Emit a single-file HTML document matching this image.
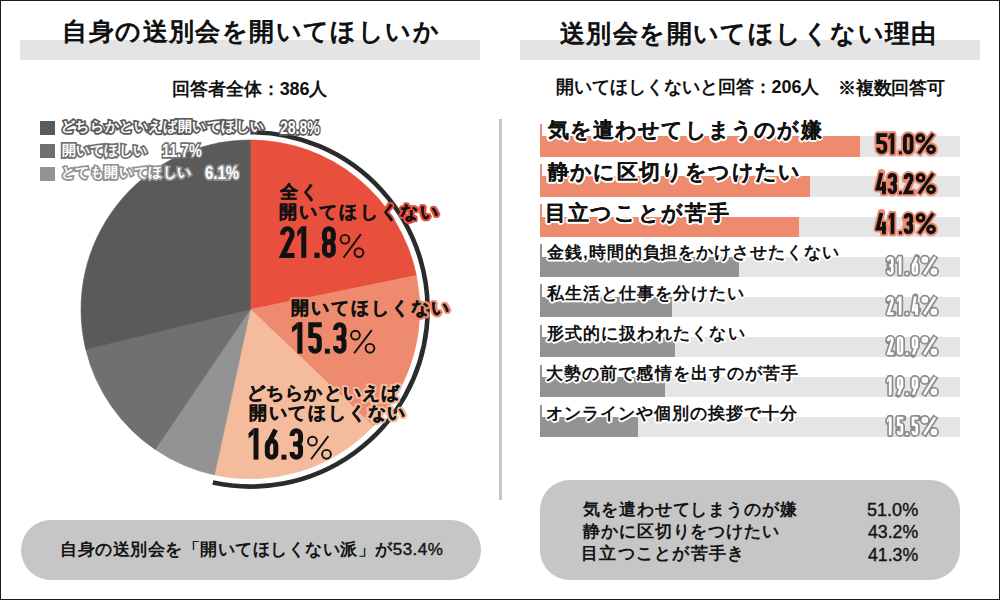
<!DOCTYPE html>
<html><head><meta charset="utf-8"><style>
*{margin:0;padding:0;box-sizing:border-box}
html,body{width:1000px;height:600px;overflow:hidden;background:#fff}
body{position:relative;font-family:"Liberation Sans",sans-serif;color:#111}
#frame{position:absolute;left:0;top:0;width:1000px;height:600px;border:1px solid #1c1c1c;z-index:50}
.t{position:absolute;white-space:nowrap;font-weight:bold;transform-origin:0 0}
.tbar{position:absolute;height:20px;background:#e4e4e4}
.blk{color:#111;-webkit-text-stroke:0.2px rgba(17,17,17,0.45)}
.blk2{color:#141414;-webkit-text-stroke:0px #141414}
.plab{color:#111;-webkit-text-stroke:0.35px #111}
.p1{text-shadow:2.20px 0.00px 0 #e84f3c,2.03px 0.84px 0 #e84f3c,1.56px 1.56px 0 #e84f3c,0.84px 2.03px 0 #e84f3c,0.00px 2.20px 0 #e84f3c,-0.84px 2.03px 0 #e84f3c,-1.56px 1.56px 0 #e84f3c,-2.03px 0.84px 0 #e84f3c,-2.20px 0.00px 0 #e84f3c,-2.03px -0.84px 0 #e84f3c,-1.56px -1.56px 0 #e84f3c,-0.84px -2.03px 0 #e84f3c,-0.00px -2.20px 0 #e84f3c,0.84px -2.03px 0 #e84f3c,1.56px -1.56px 0 #e84f3c,2.03px -0.84px 0 #e84f3c,1.32px 0.00px 0 #e84f3c,0.93px 0.93px 0 #e84f3c,0.00px 1.32px 0 #e84f3c,-0.93px 0.93px 0 #e84f3c,-1.32px 0.00px 0 #e84f3c,-0.93px -0.93px 0 #e84f3c,-0.00px -1.32px 0 #e84f3c,0.93px -0.93px 0 #e84f3c}
.p2{text-shadow:2.20px 0.00px 0 #ee8b6e,2.03px 0.84px 0 #ee8b6e,1.56px 1.56px 0 #ee8b6e,0.84px 2.03px 0 #ee8b6e,0.00px 2.20px 0 #ee8b6e,-0.84px 2.03px 0 #ee8b6e,-1.56px 1.56px 0 #ee8b6e,-2.03px 0.84px 0 #ee8b6e,-2.20px 0.00px 0 #ee8b6e,-2.03px -0.84px 0 #ee8b6e,-1.56px -1.56px 0 #ee8b6e,-0.84px -2.03px 0 #ee8b6e,-0.00px -2.20px 0 #ee8b6e,0.84px -2.03px 0 #ee8b6e,1.56px -1.56px 0 #ee8b6e,2.03px -0.84px 0 #ee8b6e,1.32px 0.00px 0 #ee8b6e,0.93px 0.93px 0 #ee8b6e,0.00px 1.32px 0 #ee8b6e,-0.93px 0.93px 0 #ee8b6e,-1.32px 0.00px 0 #ee8b6e,-0.93px -0.93px 0 #ee8b6e,-0.00px -1.32px 0 #ee8b6e,0.93px -0.93px 0 #ee8b6e}
.p3{text-shadow:2.20px 0.00px 0 #f4bc9c,2.03px 0.84px 0 #f4bc9c,1.56px 1.56px 0 #f4bc9c,0.84px 2.03px 0 #f4bc9c,0.00px 2.20px 0 #f4bc9c,-0.84px 2.03px 0 #f4bc9c,-1.56px 1.56px 0 #f4bc9c,-2.03px 0.84px 0 #f4bc9c,-2.20px 0.00px 0 #f4bc9c,-2.03px -0.84px 0 #f4bc9c,-1.56px -1.56px 0 #f4bc9c,-0.84px -2.03px 0 #f4bc9c,-0.00px -2.20px 0 #f4bc9c,0.84px -2.03px 0 #f4bc9c,1.56px -1.56px 0 #f4bc9c,2.03px -0.84px 0 #f4bc9c,1.32px 0.00px 0 #f4bc9c,0.93px 0.93px 0 #f4bc9c,0.00px 1.32px 0 #f4bc9c,-0.93px 0.93px 0 #f4bc9c,-1.32px 0.00px 0 #f4bc9c,-0.93px -0.93px 0 #f4bc9c,-0.00px -1.32px 0 #f4bc9c,0.93px -0.93px 0 #f4bc9c}
.big{color:#111}
.pctl{color:#111;font-weight:normal!important}
.nw{font-weight:normal;-webkit-text-stroke:0.4px #141414}
.bpn{color:#141414;font-weight:normal!important;-webkit-text-stroke:0.4px #141414}
.leg,.legn{color:#fff;-webkit-text-stroke:3.5px #555;paint-order:stroke fill}
.rt1{color:#111;-webkit-text-stroke:0.1px #111;text-shadow:1.80px 0.00px 0 #fff,1.66px 0.69px 0 #fff,1.27px 1.27px 0 #fff,0.69px 1.66px 0 #fff,0.00px 1.80px 0 #fff,-0.69px 1.66px 0 #fff,-1.27px 1.27px 0 #fff,-1.66px 0.69px 0 #fff,-1.80px 0.00px 0 #fff,-1.66px -0.69px 0 #fff,-1.27px -1.27px 0 #fff,-0.69px -1.66px 0 #fff,-0.00px -1.80px 0 #fff,0.69px -1.66px 0 #fff,1.27px -1.27px 0 #fff,1.66px -0.69px 0 #fff,1.08px 0.00px 0 #fff,0.76px 0.76px 0 #fff,0.00px 1.08px 0 #fff,-0.76px 0.76px 0 #fff,-1.08px 0.00px 0 #fff,-0.76px -0.76px 0 #fff,-0.00px -1.08px 0 #fff,0.76px -0.76px 0 #fff}
.rt2{color:#111;-webkit-text-stroke:0px #111;text-shadow:1.60px 0.00px 0 #fff,1.48px 0.61px 0 #fff,1.13px 1.13px 0 #fff,0.61px 1.48px 0 #fff,0.00px 1.60px 0 #fff,-0.61px 1.48px 0 #fff,-1.13px 1.13px 0 #fff,-1.48px 0.61px 0 #fff,-1.60px 0.00px 0 #fff,-1.48px -0.61px 0 #fff,-1.13px -1.13px 0 #fff,-0.61px -1.48px 0 #fff,-0.00px -1.60px 0 #fff,0.61px -1.48px 0 #fff,1.13px -1.13px 0 #fff,1.48px -0.61px 0 #fff,0.96px 0.00px 0 #fff,0.68px 0.68px 0 #fff,0.00px 0.96px 0 #fff,-0.68px 0.68px 0 #fff,-0.96px 0.00px 0 #fff,-0.68px -0.68px 0 #fff,-0.00px -0.96px 0 #fff,0.68px -0.68px 0 #fff}
.sub{color:#111;-webkit-text-stroke:0px #111}
.pct1{color:#111;-webkit-text-stroke:4px #ee8b6e;paint-order:stroke fill}
.pct2{color:#fff;-webkit-text-stroke:3.5px #8f8f8f;paint-order:stroke fill}
.legsq{position:absolute;left:40px;width:14.5px;height:14.5px}
.sep{position:absolute;left:498.5px;top:119px;width:3px;height:381px;background:#c6c6c6}
.vl{position:absolute;left:540px;width:2px}
.bg{position:absolute;left:540px;width:420px;height:20.3px;background:#e5e5e5}
.bar{position:absolute;left:540px;height:20.3px}
.box{position:absolute;background:#c6c6c6}
body.measure .t{-webkit-text-stroke-width:0!important;color:#000!important;text-shadow:none!important}
</style></head><body>
<div id="frame"></div>
<div class="tbar" style="left:20px;top:40px;width:460px"></div>
<div class="tbar" style="left:520px;top:40px;width:460px"></div>
<div id="t_lt" class="t blk" style="left:62.30px;top:19.40px;font-size:25.00px;line-height:25.00px;letter-spacing:1.41px">自身の送別会を開いてほしいか</div>
<div id="t_rt" class="t blk" style="left:560.00px;top:20.60px;font-size:25.00px;line-height:25.00px;letter-spacing:1.41px">送別会を開いてほしくない理由</div>
<div id="t_ls" class="t sub" style="left:172.15px;top:79.71px;font-size:18.00px;line-height:18.00px;letter-spacing:-0.08px">回答者全体：386人</div>
<div id="t_rs1" class="t sub" style="left:556.07px;top:77.61px;font-size:18.00px;line-height:18.00px;letter-spacing:-0.05px">開いてほしくないと回答：206人</div>
<div id="t_rs2" class="t sub" style="left:838.20px;top:78.51px;font-size:18.00px;line-height:18.00px;letter-spacing:-0.25px">※複数回答可</div>
<svg style="position:absolute;left:0;top:0" width="1000" height="600"><path fill="#e84f3c" stroke="#e84f3c" stroke-width="0.6" d="M250.4 309.4L250.40 140.00A169.4 169.4 0 0 1 416.39 275.57Z"/><path fill="#ee8b6e" stroke="#ee8b6e" stroke-width="0.6" d="M250.4 309.4L416.39 275.57A169.4 169.4 0 0 1 373.16 426.14Z"/><path fill="#f4bc9c" stroke="#f4bc9c" stroke-width="0.6" d="M250.4 309.4L373.16 426.14A169.4 169.4 0 0 1 214.49 474.95Z"/><path fill="#939393" stroke="#939393" stroke-width="0.6" d="M250.4 309.4L214.49 474.95A169.4 169.4 0 0 1 155.18 449.51Z"/><path fill="#707070" stroke="#707070" stroke-width="0.6" d="M250.4 309.4L155.18 449.51A169.4 169.4 0 0 1 85.81 349.46Z"/><path fill="#5a5a5a" stroke="#5a5a5a" stroke-width="0.6" d="M250.4 309.4L85.81 349.46A169.4 169.4 0 0 1 250.40 140.00Z"/><path fill="none" stroke="#2b2b2b" stroke-width="4.6" d="M250.4 132.2A177.2 177.2 0 1 1 212.83 482.57"/></svg>
<div class="legsq" style="top:120.5px;background:#5a5a5a"></div>
<div class="legsq" style="top:143.8px;background:#707070"></div>
<div class="legsq" style="top:166.8px;background:#939393"></div>
<div id="t_l1a" class="t leg" style="left:60.82px;top:118.96px;font-size:14.00px;line-height:14.00px;letter-spacing:0.59px;-webkit-text-stroke-color:#5a5a5a">どちらかといえば開いてほしい</div><div id="t_l1b" class="t legn" style="left:279.88px;top:117.61px;font-size:19.00px;line-height:19.00px;letter-spacing:0.00px;transform:scaleX(0.737);-webkit-text-stroke-color:#5a5a5a">28.8%</div>
<div id="t_l2a" class="t leg" style="left:61.72px;top:142.70px;font-size:14.00px;line-height:14.00px;letter-spacing:0.25px;-webkit-text-stroke-color:#707070">開いてほしい</div><div id="t_l2b" class="t legn" style="left:161.96px;top:141.80px;font-size:18.00px;line-height:18.00px;letter-spacing:0.00px;transform:scaleX(0.794);-webkit-text-stroke-color:#707070">11.7%</div>
<div id="t_l3a" class="t leg" style="left:60.82px;top:164.90px;font-size:14.00px;line-height:14.00px;letter-spacing:0.55px;-webkit-text-stroke-color:#939393">とても開いてほしい</div><div id="t_l3b" class="t legn" style="left:205.10px;top:164.00px;font-size:18.00px;line-height:18.00px;letter-spacing:0.00px;transform:scaleX(0.827);-webkit-text-stroke-color:#939393">6.1%</div>
<div id="t_p1a" class="t plab p1" style="left:279.75px;top:182.99px;font-size:18.00px;line-height:18.00px;letter-spacing:2.28px">全く</div><div id="t_p1b" class="t plab p1" style="left:278.85px;top:202.83px;font-size:18.00px;line-height:18.00px;letter-spacing:2.21px">開いてほしくない</div>
<div id="t_p2a" class="t plab p2" style="left:290.98px;top:298.86px;font-size:18.00px;line-height:18.00px;letter-spacing:2.06px">開いてほしくない</div>
<div id="t_p3a" class="t plab p3" style="left:247.05px;top:384.30px;font-size:18.00px;line-height:18.00px;letter-spacing:1.14px">どちらかといえば</div><div id="t_p3b" class="t plab p3" style="left:248.85px;top:403.95px;font-size:18.00px;line-height:18.00px;letter-spacing:1.78px">開いてほしくない</div>
<svg style="position:absolute;left:0;top:0" width="1000" height="600"><g role="img" aria-label="21.8%"><path d="M282.70 234.65L282.70 233.45A4.65 4.65 0 0 1 292.00 233.45L292.00 235.98L282.70 255.40L294.50 255.40" fill="none" stroke="#111" stroke-width="5.00" stroke-linecap="butt" stroke-linejoin="miter"/><polygon points="297.30,231.36 301.30,226.30 301.30,232.62 297.30,236.73" fill="#111" stroke="#111" stroke-width="0.00" stroke-linejoin="round"/><rect x="301.30" y="226.30" width="5.00" height="31.60" rx="0.00" fill="#111"/><rect x="314.40" y="252.70" width="5.20" height="5.20" rx="0.00" fill="#111"/><path d="M324.50 233.20A4.40 4.40 0 0 1 333.30 233.20L333.30 237.70A4.40 4.40 0 0 1 324.50 237.70Z" fill="none" stroke="#111" stroke-width="5.00" stroke-linecap="butt" stroke-linejoin="miter"/><path d="M324.50 246.50A4.40 4.40 0 0 1 333.30 246.50L333.30 251.00A4.40 4.40 0 0 1 324.50 251.00Z" fill="none" stroke="#111" stroke-width="5.00" stroke-linecap="butt" stroke-linejoin="miter"/><circle cx="344.95" cy="239.25" r="4.40" fill="none" stroke="#111" stroke-width="1.90"/><circle cx="358.95" cy="252.65" r="4.40" fill="none" stroke="#111" stroke-width="1.90"/><path d="M360.84 234.28L343.55 257.62" stroke="#111" stroke-width="1.90" stroke-linecap="butt"/></g><g role="img" aria-label="15.3%"><polygon points="292.00,327.19 297.40,322.15 297.40,328.45 292.00,332.54" fill="#111" stroke="#111" stroke-width="0.00" stroke-linejoin="round"/><rect x="297.40" y="322.15" width="5.00" height="31.50" rx="0.00" fill="#111"/><path d="M321.75 324.65L310.75 324.65L310.75 337.88" fill="none" stroke="#111" stroke-width="5.00" stroke-linecap="butt" stroke-linejoin="miter"/><path d="M310.75 335.38L315.00 335.38A4.25 4.25 0 0 1 319.25 339.63L319.25 346.90A4.25 4.25 0 0 1 310.75 346.90L310.75 345.90" fill="none" stroke="#111" stroke-width="5.00" stroke-linecap="butt" stroke-linejoin="miter"/><rect x="324.90" y="348.70" width="4.95" height="4.95" rx="0.00" fill="#111"/><path d="M335.50 329.90L335.50 328.90A4.25 4.25 0 0 1 344.00 328.90L344.00 333.65A4.25 4.25 0 0 1 339.75 337.90L336.50 337.90" fill="none" stroke="#111" stroke-width="5.00" stroke-linecap="butt" stroke-linejoin="miter"/><path d="M339.75 337.90A4.25 4.25 0 0 1 344.00 342.15L344.00 346.90A4.25 4.25 0 0 1 335.50 346.90L335.50 345.90" fill="none" stroke="#111" stroke-width="5.00" stroke-linecap="butt" stroke-linejoin="miter"/><circle cx="355.45" cy="335.15" r="4.40" fill="none" stroke="#111" stroke-width="1.90"/><circle cx="369.95" cy="348.30" r="4.40" fill="none" stroke="#111" stroke-width="1.90"/><path d="M371.77 330.18L354.13 353.27" stroke="#111" stroke-width="1.90" stroke-linecap="butt"/></g><g role="img" aria-label="16.3%"><polygon points="248.60,433.19 253.50,428.15 253.50,434.45 248.60,438.54" fill="#111" stroke="#111" stroke-width="0.00" stroke-linejoin="round"/><rect x="253.50" y="428.15" width="5.00" height="31.50" rx="0.00" fill="#111"/><path d="M267.30 445.00A4.25 4.25 0 0 1 275.80 445.00L275.80 452.90A4.25 4.25 0 0 1 267.30 452.90Z" fill="none" stroke="#111" stroke-width="5.00" stroke-linecap="butt" stroke-linejoin="miter"/><path d="M275.60 429.65L267.30 446.00" fill="none" stroke="#111" stroke-width="5.00" stroke-linecap="butt" stroke-linejoin="miter"/><rect x="281.45" y="454.70" width="4.95" height="4.95" rx="0.00" fill="#111"/><path d="M292.05 435.90L292.05 434.90A4.25 4.25 0 0 1 300.55 434.90L300.55 439.65A4.25 4.25 0 0 1 296.30 443.90L293.05 443.90" fill="none" stroke="#111" stroke-width="5.00" stroke-linecap="butt" stroke-linejoin="miter"/><path d="M296.30 443.90A4.25 4.25 0 0 1 300.55 448.15L300.55 452.90A4.25 4.25 0 0 1 292.05 452.90L292.05 451.90" fill="none" stroke="#111" stroke-width="5.00" stroke-linecap="butt" stroke-linejoin="miter"/><circle cx="312.45" cy="441.15" r="4.40" fill="none" stroke="#111" stroke-width="1.90"/><circle cx="326.50" cy="454.30" r="4.40" fill="none" stroke="#111" stroke-width="1.90"/><path d="M328.39 436.18L311.06 459.27" stroke="#111" stroke-width="1.90" stroke-linecap="butt"/></g></svg>
<div class="box" style="left:21px;top:520px;width:460px;height:60px;border-radius:30px"></div>
<div id="t_bl" class="t blk2" style="left:60.20px;top:540.50px;font-size:17.00px;line-height:17.00px;letter-spacing:0.50px">自身の送別会を「開いてほしくない派」が<span class="nw">53.4%</span></div>
<div class="sep"></div>
<div class="bg" style="top:136.30px"></div>
<div class="bar" style="top:136.30px;width:320px;background:#ee8b6e"></div>
<div class="vl" style="top:124.00px;height:32.6px;background:#ee8b6e"></div>
<div class="bg" style="top:176.40px"></div>
<div class="bar" style="top:176.40px;width:270px;background:#ee8b6e"></div>
<div class="vl" style="top:164.10px;height:32.6px;background:#ee8b6e"></div>
<div class="bg" style="top:216.50px"></div>
<div class="bar" style="top:216.50px;width:259px;background:#ee8b6e"></div>
<div class="vl" style="top:204.20px;height:32.6px;background:#ee8b6e"></div>
<div class="bg" style="top:256.60px"></div>
<div class="bar" style="top:256.60px;width:199px;background:#939393"></div>
<div class="vl" style="top:244.30px;height:32.6px;background:#939393"></div>
<div class="bg" style="top:296.70px"></div>
<div class="bar" style="top:296.70px;width:132px;background:#939393"></div>
<div class="vl" style="top:284.40px;height:32.6px;background:#939393"></div>
<div class="bg" style="top:336.80px"></div>
<div class="bar" style="top:336.80px;width:135px;background:#939393"></div>
<div class="vl" style="top:324.50px;height:32.6px;background:#939393"></div>
<div class="bg" style="top:376.90px"></div>
<div class="bar" style="top:376.90px;width:125px;background:#939393"></div>
<div class="vl" style="top:364.60px;height:32.6px;background:#939393"></div>
<div class="bg" style="top:417.00px"></div>
<div class="bar" style="top:417.00px;width:98px;background:#939393"></div>
<div class="vl" style="top:404.70px;height:32.6px;background:#939393"></div>
<div id="t_r1" class="t rt1" style="left:547.50px;top:119.08px;font-size:21.00px;line-height:21.00px;letter-spacing:1.20px">気を遣わせてしまうのが嫌</div><div id="t_r2" class="t rt1" style="left:547.50px;top:160.90px;font-size:21.00px;line-height:21.00px;letter-spacing:1.38px">静かに区切りをつけたい</div><div id="t_r3" class="t rt1" style="left:544.80px;top:201.65px;font-size:21.00px;line-height:21.00px;letter-spacing:1.72px">目立つことが苦手</div><div id="t_r4" class="t rt2" style="left:547.05px;top:243.70px;font-size:17.00px;line-height:17.00px;letter-spacing:0.96px">金銭,時間的負担をかけさせたくない</div><div id="t_r5" class="t rt2" style="left:547.05px;top:284.63px;font-size:17.00px;line-height:17.00px;letter-spacing:1.00px">私生活と仕事を分けたい</div><div id="t_r6" class="t rt2" style="left:547.05px;top:324.90px;font-size:17.00px;line-height:17.00px;letter-spacing:1.05px">形式的に扱われたくない</div><div id="t_r7" class="t rt2" style="left:546.15px;top:365.38px;font-size:17.00px;line-height:17.00px;letter-spacing:1.07px">大勢の前で感情を出すのが苦手</div><div id="t_r8" class="t rt2" style="left:546.15px;top:405.40px;font-size:17.00px;line-height:17.00px;letter-spacing:0.99px">オンラインや個別の挨拶で十分</div>
<svg style="position:absolute;left:0;top:0" width="1000" height="600"><g role="img" aria-label="51.0%"><path d="M887.25 135.15L878.30 135.15L878.30 143.97" fill="none" stroke="#ee8b6e" stroke-width="7.80" stroke-linecap="round" stroke-linejoin="round"/><path d="M878.30 142.07L881.83 142.07A3.53 3.53 0 0 1 885.35 145.60L885.35 148.82A3.53 3.53 0 0 1 878.30 148.82L878.30 147.82" fill="none" stroke="#ee8b6e" stroke-width="7.80" stroke-linecap="round" stroke-linejoin="round"/><polygon points="888.40,136.61 890.60,133.25 890.60,137.45 888.40,140.18" fill="#ee8b6e" stroke="#ee8b6e" stroke-width="4.00" stroke-linejoin="round"/><rect x="888.60" y="131.25" width="7.80" height="25.00" rx="2.00" fill="#ee8b6e"/><rect x="896.90" y="149.25" width="7.00" height="7.00" rx="2.00" fill="#ee8b6e"/><path d="M904.90 138.50A3.35 3.35 0 0 1 911.60 138.50L911.60 149.00A3.35 3.35 0 0 1 904.90 149.00Z" fill="none" stroke="#ee8b6e" stroke-width="7.80" stroke-linecap="round" stroke-linejoin="round"/><circle cx="920.30" cy="138.15" r="3.30" fill="none" stroke="#ee8b6e" stroke-width="7.20"/><circle cx="931.10" cy="149.35" r="3.30" fill="none" stroke="#ee8b6e" stroke-width="7.20"/><path d="M934.06 132.60L917.75 154.90" stroke="#ee8b6e" stroke-width="7.20" stroke-linecap="butt"/><path d="M887.25 135.15L878.30 135.15L878.30 143.97" fill="none" stroke="#111" stroke-width="3.80" stroke-linecap="butt" stroke-linejoin="miter"/><path d="M878.30 142.07L881.83 142.07A3.53 3.53 0 0 1 885.35 145.60L885.35 148.82A3.53 3.53 0 0 1 878.30 148.82L878.30 147.82" fill="none" stroke="#111" stroke-width="3.80" stroke-linecap="butt" stroke-linejoin="miter"/><polygon points="888.40,136.61 890.60,133.25 890.60,137.45 888.40,140.18" fill="#111" stroke="#111" stroke-width="0.00" stroke-linejoin="round"/><rect x="890.60" y="133.25" width="3.80" height="21.00" rx="0.00" fill="#111"/><rect x="898.90" y="151.25" width="3.00" height="3.00" rx="0.00" fill="#111"/><path d="M904.90 138.50A3.35 3.35 0 0 1 911.60 138.50L911.60 149.00A3.35 3.35 0 0 1 904.90 149.00Z" fill="none" stroke="#111" stroke-width="3.80" stroke-linecap="butt" stroke-linejoin="miter"/><circle cx="920.30" cy="138.15" r="3.30" fill="none" stroke="#111" stroke-width="3.20"/><circle cx="931.10" cy="149.35" r="3.30" fill="none" stroke="#111" stroke-width="3.20"/><path d="M933.12 133.89L918.70 153.61" stroke="#111" stroke-width="3.20" stroke-linecap="butt"/></g><g role="img" aria-label="43.2%"><path d="M881.38 172.90L877.50 188.70L886.10 188.70" fill="none" stroke="#ee8b6e" stroke-width="7.80" stroke-linecap="round" stroke-linejoin="round"/><rect x="880.00" y="179.87" width="7.80" height="16.38" rx="2.00" fill="#ee8b6e"/><path d="M889.50 178.60L889.50 177.60A2.80 2.80 0 0 1 895.10 177.60L895.10 180.77A2.80 2.80 0 0 1 892.30 183.57L890.50 183.57" fill="none" stroke="#ee8b6e" stroke-width="7.80" stroke-linecap="round" stroke-linejoin="round"/><path d="M892.30 183.57A2.80 2.80 0 0 1 895.10 186.38L895.10 189.55A2.80 2.80 0 0 1 889.50 189.55L889.50 188.55" fill="none" stroke="#ee8b6e" stroke-width="7.80" stroke-linecap="round" stroke-linejoin="round"/><rect x="896.90" y="189.25" width="7.00" height="7.00" rx="2.00" fill="#ee8b6e"/><path d="M905.65 178.98L905.65 177.78A2.98 2.98 0 0 1 911.60 177.78L911.60 179.48L905.65 192.35L913.50 192.35" fill="none" stroke="#ee8b6e" stroke-width="7.80" stroke-linecap="round" stroke-linejoin="round"/><circle cx="920.65" cy="177.80" r="3.30" fill="none" stroke="#ee8b6e" stroke-width="7.20"/><circle cx="931.10" cy="189.35" r="3.30" fill="none" stroke="#ee8b6e" stroke-width="7.20"/><path d="M934.09 172.23L918.07 194.92" stroke="#ee8b6e" stroke-width="7.20" stroke-linecap="butt"/><path d="M881.38 172.90L877.50 188.70L886.10 188.70" fill="none" stroke="#111" stroke-width="3.80" stroke-linecap="butt" stroke-linejoin="miter"/><rect x="882.00" y="181.87" width="3.80" height="12.38" rx="0.00" fill="#111"/><path d="M889.50 178.60L889.50 177.60A2.80 2.80 0 0 1 895.10 177.60L895.10 180.77A2.80 2.80 0 0 1 892.30 183.57L890.50 183.57" fill="none" stroke="#111" stroke-width="3.80" stroke-linecap="butt" stroke-linejoin="miter"/><path d="M892.30 183.57A2.80 2.80 0 0 1 895.10 186.38L895.10 189.55A2.80 2.80 0 0 1 889.50 189.55L889.50 188.55" fill="none" stroke="#111" stroke-width="3.80" stroke-linecap="butt" stroke-linejoin="miter"/><rect x="898.90" y="191.25" width="3.00" height="3.00" rx="0.00" fill="#111"/><path d="M905.65 178.98L905.65 177.78A2.98 2.98 0 0 1 911.60 177.78L911.60 179.48L905.65 192.35L913.50 192.35" fill="none" stroke="#111" stroke-width="3.80" stroke-linecap="butt" stroke-linejoin="miter"/><circle cx="920.65" cy="177.80" r="3.30" fill="none" stroke="#111" stroke-width="3.20"/><circle cx="931.10" cy="189.35" r="3.30" fill="none" stroke="#111" stroke-width="3.20"/><path d="M933.16 173.54L918.99 193.61" stroke="#111" stroke-width="3.20" stroke-linecap="butt"/></g><g role="img" aria-label="41.3%"><path d="M881.38 212.90L877.50 228.70L886.10 228.70" fill="none" stroke="#ee8b6e" stroke-width="7.80" stroke-linecap="round" stroke-linejoin="round"/><rect x="880.00" y="219.87" width="7.80" height="16.38" rx="2.00" fill="#ee8b6e"/><polygon points="888.75,216.32 890.60,212.90 890.60,217.17 888.75,219.95" fill="#ee8b6e" stroke="#ee8b6e" stroke-width="4.00" stroke-linejoin="round"/><rect x="888.60" y="210.90" width="7.80" height="25.35" rx="2.00" fill="#ee8b6e"/><rect x="896.90" y="229.25" width="7.00" height="7.00" rx="2.00" fill="#ee8b6e"/><path d="M905.65 218.58L905.65 217.58A2.78 2.78 0 0 1 911.20 217.58L911.20 220.80A2.78 2.78 0 0 1 908.42 223.57L906.65 223.57" fill="none" stroke="#ee8b6e" stroke-width="7.80" stroke-linecap="round" stroke-linejoin="round"/><path d="M908.42 223.57A2.78 2.78 0 0 1 911.20 226.35L911.20 229.57A2.78 2.78 0 0 1 905.65 229.57L905.65 228.57" fill="none" stroke="#ee8b6e" stroke-width="7.80" stroke-linecap="round" stroke-linejoin="round"/><circle cx="920.65" cy="217.80" r="3.30" fill="none" stroke="#ee8b6e" stroke-width="7.20"/><circle cx="931.10" cy="229.35" r="3.30" fill="none" stroke="#ee8b6e" stroke-width="7.20"/><path d="M934.09 212.23L918.07 234.92" stroke="#ee8b6e" stroke-width="7.20" stroke-linecap="butt"/><path d="M881.38 212.90L877.50 228.70L886.10 228.70" fill="none" stroke="#111" stroke-width="3.80" stroke-linecap="butt" stroke-linejoin="miter"/><rect x="882.00" y="221.87" width="3.80" height="12.38" rx="0.00" fill="#111"/><polygon points="888.75,216.32 890.60,212.90 890.60,217.17 888.75,219.95" fill="#111" stroke="#111" stroke-width="0.00" stroke-linejoin="round"/><rect x="890.60" y="212.90" width="3.80" height="21.35" rx="0.00" fill="#111"/><rect x="898.90" y="231.25" width="3.00" height="3.00" rx="0.00" fill="#111"/><path d="M905.65 218.58L905.65 217.58A2.78 2.78 0 0 1 911.20 217.58L911.20 220.80A2.78 2.78 0 0 1 908.42 223.57L906.65 223.57" fill="none" stroke="#111" stroke-width="3.80" stroke-linecap="butt" stroke-linejoin="miter"/><path d="M908.42 223.57A2.78 2.78 0 0 1 911.20 226.35L911.20 229.57A2.78 2.78 0 0 1 905.65 229.57L905.65 228.57" fill="none" stroke="#111" stroke-width="3.80" stroke-linecap="butt" stroke-linejoin="miter"/><circle cx="920.65" cy="217.80" r="3.30" fill="none" stroke="#111" stroke-width="3.20"/><circle cx="931.10" cy="229.35" r="3.30" fill="none" stroke="#111" stroke-width="3.20"/><path d="M933.16 213.54L918.99 233.61" stroke="#111" stroke-width="3.20" stroke-linecap="butt"/></g><g role="img" aria-label="31.6%"><path d="M888.35 260.70L888.35 259.70A1.95 1.95 0 0 1 892.25 259.70L892.25 263.65A1.95 1.95 0 0 1 890.30 265.60L889.35 265.60" fill="none" stroke="#8c8c8c" stroke-width="6.10" stroke-linecap="round" stroke-linejoin="round"/><path d="M890.30 265.60A1.95 1.95 0 0 1 892.25 267.55L892.25 271.50A1.95 1.95 0 0 1 888.35 271.50L888.35 270.50" fill="none" stroke="#8c8c8c" stroke-width="6.10" stroke-linecap="round" stroke-linejoin="round"/><polygon points="896.90,259.34 898.80,256.40 898.80,260.08 896.90,262.47" fill="#8c8c8c" stroke="#8c8c8c" stroke-width="3.40" stroke-linejoin="round"/><rect x="897.10" y="254.70" width="6.10" height="21.80" rx="1.70" fill="#8c8c8c"/><rect x="904.10" y="270.70" width="5.80" height="5.80" rx="1.70" fill="#8c8c8c"/><path d="M913.05 265.66A1.90 1.90 0 0 1 916.85 265.66L916.85 271.55A1.90 1.90 0 0 1 913.05 271.55Z" fill="none" stroke="#8c8c8c" stroke-width="6.10" stroke-linecap="round" stroke-linejoin="round"/><path d="M916.90 257.21L913.05 266.66" fill="none" stroke="#8c8c8c" stroke-width="6.10" stroke-linecap="round" stroke-linejoin="round"/><circle cx="924.85" cy="259.65" r="2.00" fill="none" stroke="#8c8c8c" stroke-width="5.90"/><circle cx="934.05" cy="271.55" r="2.00" fill="none" stroke="#8c8c8c" stroke-width="5.90"/><path d="M935.83 255.75L923.39 275.45" stroke="#8c8c8c" stroke-width="5.90" stroke-linecap="butt"/><path d="M888.35 260.70L888.35 259.70A1.95 1.95 0 0 1 892.25 259.70L892.25 263.65A1.95 1.95 0 0 1 890.30 265.60L889.35 265.60" fill="none" stroke="#fff" stroke-width="2.70" stroke-linecap="butt" stroke-linejoin="miter"/><path d="M890.30 265.60A1.95 1.95 0 0 1 892.25 267.55L892.25 271.50A1.95 1.95 0 0 1 888.35 271.50L888.35 270.50" fill="none" stroke="#fff" stroke-width="2.70" stroke-linecap="butt" stroke-linejoin="miter"/><polygon points="896.90,259.34 898.80,256.40 898.80,260.08 896.90,262.47" fill="#fff" stroke="#fff" stroke-width="0.00" stroke-linejoin="round"/><rect x="898.80" y="256.40" width="2.70" height="18.40" rx="0.00" fill="#fff"/><rect x="905.80" y="272.40" width="2.40" height="2.40" rx="0.00" fill="#fff"/><path d="M913.05 265.66A1.90 1.90 0 0 1 916.85 265.66L916.85 271.55A1.90 1.90 0 0 1 913.05 271.55Z" fill="none" stroke="#fff" stroke-width="2.70" stroke-linecap="butt" stroke-linejoin="miter"/><path d="M916.90 257.21L913.05 266.66" fill="none" stroke="#fff" stroke-width="2.70" stroke-linecap="butt" stroke-linejoin="miter"/><circle cx="924.85" cy="259.65" r="2.00" fill="none" stroke="#fff" stroke-width="2.50"/><circle cx="934.05" cy="271.55" r="2.00" fill="none" stroke="#fff" stroke-width="2.50"/><path d="M935.10 256.90L924.11 274.30" stroke="#fff" stroke-width="2.50" stroke-linecap="butt"/></g><g role="img" aria-label="21.4%"><path d="M888.35 301.00L888.35 299.80A1.95 1.95 0 0 1 892.25 299.80L892.25 301.27L888.35 313.55L893.60 313.55" fill="none" stroke="#8c8c8c" stroke-width="6.10" stroke-linecap="round" stroke-linejoin="round"/><polygon points="896.90,299.44 898.80,296.50 898.80,300.18 896.90,302.57" fill="#8c8c8c" stroke="#8c8c8c" stroke-width="3.40" stroke-linejoin="round"/><rect x="897.10" y="294.80" width="6.10" height="21.80" rx="1.70" fill="#8c8c8c"/><rect x="904.10" y="310.80" width="5.80" height="5.80" rx="1.70" fill="#8c8c8c"/><path d="M915.28 296.50L913.05 310.12L918.20 310.12" fill="none" stroke="#8c8c8c" stroke-width="6.10" stroke-linecap="round" stroke-linejoin="round"/><rect x="913.50" y="302.53" width="6.10" height="14.07" rx="1.70" fill="#8c8c8c"/><circle cx="924.85" cy="299.75" r="2.00" fill="none" stroke="#8c8c8c" stroke-width="5.90"/><circle cx="934.05" cy="311.65" r="2.00" fill="none" stroke="#8c8c8c" stroke-width="5.90"/><path d="M935.83 295.85L923.39 315.55" stroke="#8c8c8c" stroke-width="5.90" stroke-linecap="butt"/><path d="M888.35 301.00L888.35 299.80A1.95 1.95 0 0 1 892.25 299.80L892.25 301.27L888.35 313.55L893.60 313.55" fill="none" stroke="#fff" stroke-width="2.70" stroke-linecap="butt" stroke-linejoin="miter"/><polygon points="896.90,299.44 898.80,296.50 898.80,300.18 896.90,302.57" fill="#fff" stroke="#fff" stroke-width="0.00" stroke-linejoin="round"/><rect x="898.80" y="296.50" width="2.70" height="18.40" rx="0.00" fill="#fff"/><rect x="905.80" y="312.50" width="2.40" height="2.40" rx="0.00" fill="#fff"/><path d="M915.28 296.50L913.05 310.12L918.20 310.12" fill="none" stroke="#fff" stroke-width="2.70" stroke-linecap="butt" stroke-linejoin="miter"/><rect x="915.20" y="304.23" width="2.70" height="10.67" rx="0.00" fill="#fff"/><circle cx="924.85" cy="299.75" r="2.00" fill="none" stroke="#fff" stroke-width="2.50"/><circle cx="934.05" cy="311.65" r="2.00" fill="none" stroke="#fff" stroke-width="2.50"/><path d="M935.10 297.00L924.11 314.40" stroke="#fff" stroke-width="2.50" stroke-linecap="butt"/></g><g role="img" aria-label="20.9%"><path d="M888.35 341.10L888.35 339.90A1.95 1.95 0 0 1 892.25 339.90L892.25 341.37L888.35 353.65L893.60 353.65" fill="none" stroke="#8c8c8c" stroke-width="6.10" stroke-linecap="round" stroke-linejoin="round"/><path d="M898.25 339.80A1.85 1.85 0 0 1 901.95 339.80L901.95 351.80A1.85 1.85 0 0 1 898.25 351.80Z" fill="none" stroke="#8c8c8c" stroke-width="6.10" stroke-linecap="round" stroke-linejoin="round"/><rect x="904.10" y="350.90" width="5.80" height="5.80" rx="1.70" fill="#8c8c8c"/><path d="M913.05 339.85A1.90 1.90 0 0 1 916.85 339.85L916.85 345.74A1.90 1.90 0 0 1 913.05 345.74Z" fill="none" stroke="#8c8c8c" stroke-width="6.10" stroke-linecap="round" stroke-linejoin="round"/><path d="M916.85 344.74L913.13 354.59" fill="none" stroke="#8c8c8c" stroke-width="6.10" stroke-linecap="round" stroke-linejoin="round"/><circle cx="924.85" cy="339.85" r="2.00" fill="none" stroke="#8c8c8c" stroke-width="5.90"/><circle cx="934.05" cy="351.75" r="2.00" fill="none" stroke="#8c8c8c" stroke-width="5.90"/><path d="M935.83 335.95L923.39 355.65" stroke="#8c8c8c" stroke-width="5.90" stroke-linecap="butt"/><path d="M888.35 341.10L888.35 339.90A1.95 1.95 0 0 1 892.25 339.90L892.25 341.37L888.35 353.65L893.60 353.65" fill="none" stroke="#fff" stroke-width="2.70" stroke-linecap="butt" stroke-linejoin="miter"/><path d="M898.25 339.80A1.85 1.85 0 0 1 901.95 339.80L901.95 351.80A1.85 1.85 0 0 1 898.25 351.80Z" fill="none" stroke="#fff" stroke-width="2.70" stroke-linecap="butt" stroke-linejoin="miter"/><rect x="905.80" y="352.60" width="2.40" height="2.40" rx="0.00" fill="#fff"/><path d="M913.05 339.85A1.90 1.90 0 0 1 916.85 339.85L916.85 345.74A1.90 1.90 0 0 1 913.05 345.74Z" fill="none" stroke="#fff" stroke-width="2.70" stroke-linecap="butt" stroke-linejoin="miter"/><path d="M916.85 344.74L913.13 354.59" fill="none" stroke="#fff" stroke-width="2.70" stroke-linecap="butt" stroke-linejoin="miter"/><circle cx="924.85" cy="339.85" r="2.00" fill="none" stroke="#fff" stroke-width="2.50"/><circle cx="934.05" cy="351.75" r="2.00" fill="none" stroke="#fff" stroke-width="2.50"/><path d="M935.10 337.10L924.11 354.50" stroke="#fff" stroke-width="2.50" stroke-linecap="butt"/></g><g role="img" aria-label="19.9%"><polygon points="887.00,379.64 888.90,376.70 888.90,380.38 887.00,382.77" fill="#8c8c8c" stroke="#8c8c8c" stroke-width="3.40" stroke-linejoin="round"/><rect x="887.20" y="375.00" width="6.10" height="21.80" rx="1.70" fill="#8c8c8c"/><path d="M898.25 379.90A1.85 1.85 0 0 1 901.95 379.90L901.95 385.89A1.85 1.85 0 0 1 898.25 385.89Z" fill="none" stroke="#8c8c8c" stroke-width="6.10" stroke-linecap="round" stroke-linejoin="round"/><path d="M901.95 384.89L898.31 394.69" fill="none" stroke="#8c8c8c" stroke-width="6.10" stroke-linecap="round" stroke-linejoin="round"/><rect x="904.10" y="391.00" width="5.80" height="5.80" rx="1.70" fill="#8c8c8c"/><path d="M913.05 379.95A1.90 1.90 0 0 1 916.85 379.95L916.85 385.84A1.90 1.90 0 0 1 913.05 385.84Z" fill="none" stroke="#8c8c8c" stroke-width="6.10" stroke-linecap="round" stroke-linejoin="round"/><path d="M916.85 384.84L913.13 394.69" fill="none" stroke="#8c8c8c" stroke-width="6.10" stroke-linecap="round" stroke-linejoin="round"/><circle cx="924.85" cy="379.95" r="2.00" fill="none" stroke="#8c8c8c" stroke-width="5.90"/><circle cx="934.05" cy="391.85" r="2.00" fill="none" stroke="#8c8c8c" stroke-width="5.90"/><path d="M935.83 376.05L923.39 395.75" stroke="#8c8c8c" stroke-width="5.90" stroke-linecap="butt"/><polygon points="887.00,379.64 888.90,376.70 888.90,380.38 887.00,382.77" fill="#fff" stroke="#fff" stroke-width="0.00" stroke-linejoin="round"/><rect x="888.90" y="376.70" width="2.70" height="18.40" rx="0.00" fill="#fff"/><path d="M898.25 379.90A1.85 1.85 0 0 1 901.95 379.90L901.95 385.89A1.85 1.85 0 0 1 898.25 385.89Z" fill="none" stroke="#fff" stroke-width="2.70" stroke-linecap="butt" stroke-linejoin="miter"/><path d="M901.95 384.89L898.31 394.69" fill="none" stroke="#fff" stroke-width="2.70" stroke-linecap="butt" stroke-linejoin="miter"/><rect x="905.80" y="392.70" width="2.40" height="2.40" rx="0.00" fill="#fff"/><path d="M913.05 379.95A1.90 1.90 0 0 1 916.85 379.95L916.85 385.84A1.90 1.90 0 0 1 913.05 385.84Z" fill="none" stroke="#fff" stroke-width="2.70" stroke-linecap="butt" stroke-linejoin="miter"/><path d="M916.85 384.84L913.13 394.69" fill="none" stroke="#fff" stroke-width="2.70" stroke-linecap="butt" stroke-linejoin="miter"/><circle cx="924.85" cy="379.95" r="2.00" fill="none" stroke="#fff" stroke-width="2.50"/><circle cx="934.05" cy="391.85" r="2.00" fill="none" stroke="#fff" stroke-width="2.50"/><path d="M935.10 377.20L924.11 394.60" stroke="#fff" stroke-width="2.50" stroke-linecap="butt"/></g><g role="img" aria-label="15.5%"><polygon points="887.00,419.74 888.90,416.80 888.90,420.48 887.00,422.87" fill="#8c8c8c" stroke="#8c8c8c" stroke-width="3.40" stroke-linejoin="round"/><rect x="887.20" y="415.10" width="6.10" height="21.80" rx="1.70" fill="#8c8c8c"/><path d="M903.30 418.15L898.25 418.15L898.25 425.88" fill="none" stroke="#8c8c8c" stroke-width="6.10" stroke-linecap="round" stroke-linejoin="round"/><path d="M898.25 424.53L900.10 424.53A1.85 1.85 0 0 1 901.95 426.38L901.95 432.00A1.85 1.85 0 0 1 898.25 432.00L898.25 431.00" fill="none" stroke="#8c8c8c" stroke-width="6.10" stroke-linecap="round" stroke-linejoin="round"/><rect x="904.10" y="431.10" width="5.80" height="5.80" rx="1.70" fill="#8c8c8c"/><path d="M918.20 418.15L913.05 418.15L913.05 425.88" fill="none" stroke="#8c8c8c" stroke-width="6.10" stroke-linecap="round" stroke-linejoin="round"/><path d="M913.05 424.53L914.95 424.53A1.90 1.90 0 0 1 916.85 426.43L916.85 431.95A1.90 1.90 0 0 1 913.05 431.95L913.05 430.95" fill="none" stroke="#8c8c8c" stroke-width="6.10" stroke-linecap="round" stroke-linejoin="round"/><circle cx="924.85" cy="420.05" r="2.00" fill="none" stroke="#8c8c8c" stroke-width="5.90"/><circle cx="934.05" cy="431.95" r="2.00" fill="none" stroke="#8c8c8c" stroke-width="5.90"/><path d="M935.83 416.15L923.39 435.85" stroke="#8c8c8c" stroke-width="5.90" stroke-linecap="butt"/><polygon points="887.00,419.74 888.90,416.80 888.90,420.48 887.00,422.87" fill="#fff" stroke="#fff" stroke-width="0.00" stroke-linejoin="round"/><rect x="888.90" y="416.80" width="2.70" height="18.40" rx="0.00" fill="#fff"/><path d="M903.30 418.15L898.25 418.15L898.25 425.88" fill="none" stroke="#fff" stroke-width="2.70" stroke-linecap="butt" stroke-linejoin="miter"/><path d="M898.25 424.53L900.10 424.53A1.85 1.85 0 0 1 901.95 426.38L901.95 432.00A1.85 1.85 0 0 1 898.25 432.00L898.25 431.00" fill="none" stroke="#fff" stroke-width="2.70" stroke-linecap="butt" stroke-linejoin="miter"/><rect x="905.80" y="432.80" width="2.40" height="2.40" rx="0.00" fill="#fff"/><path d="M918.20 418.15L913.05 418.15L913.05 425.88" fill="none" stroke="#fff" stroke-width="2.70" stroke-linecap="butt" stroke-linejoin="miter"/><path d="M913.05 424.53L914.95 424.53A1.90 1.90 0 0 1 916.85 426.43L916.85 431.95A1.90 1.90 0 0 1 913.05 431.95L913.05 430.95" fill="none" stroke="#fff" stroke-width="2.70" stroke-linecap="butt" stroke-linejoin="miter"/><circle cx="924.85" cy="420.05" r="2.00" fill="none" stroke="#fff" stroke-width="2.50"/><circle cx="934.05" cy="431.95" r="2.00" fill="none" stroke="#fff" stroke-width="2.50"/><path d="M935.10 417.30L924.11 434.70" stroke="#fff" stroke-width="2.50" stroke-linecap="butt"/></g></svg>
<div class="box" style="left:540px;top:480.4px;width:420px;height:99.2px;border-radius:30px"></div>
<div id="t_b1" class="t blk2" style="left:583.02px;top:501.08px;font-size:17.00px;line-height:17.00px;letter-spacing:0.91px">気を遣わせてしまうのが嫌</div><div id="t_b2" class="t blk2" style="left:583.02px;top:522.59px;font-size:17.00px;line-height:17.00px;letter-spacing:0.90px">静かに区切りをつけたい</div><div id="t_b3" class="t blk2" style="left:581.22px;top:545.00px;font-size:17.00px;line-height:17.00px;letter-spacing:1.25px">目立つことが苦手き</div>
<div id="t_bp1" class="t bpn" style="left:867.10px;top:500.49px;font-size:19.00px;line-height:19.00px;letter-spacing:0.00px;transform:scaleX(0.950)">51.0%</div><div id="t_bp2" class="t bpn" style="left:868.00px;top:522.49px;font-size:19.00px;line-height:19.00px;letter-spacing:0.00px;transform:scaleX(0.932)">43.2%</div><div id="t_bp3" class="t bpn" style="left:868.00px;top:544.61px;font-size:19.00px;line-height:19.00px;letter-spacing:0.00px;transform:scaleX(0.932)">41.3%</div>
</body></html>
